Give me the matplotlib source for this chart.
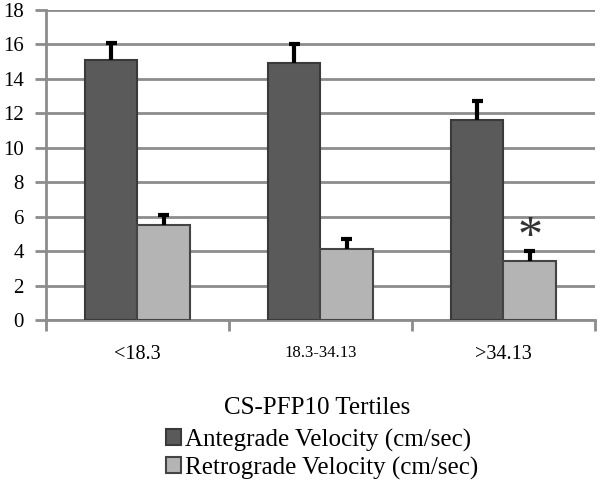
import matplotlib.pyplot as plt
import numpy as np

categories = ['<18.3', '18.3-34.13', '>34.13']
antegrade = [15.1, 14.9, 11.6]
antegrade_err = [1.0, 1.1, 1.1]
retrograde = [5.5, 4.1, 3.4]
retrograde_err = [0.6, 0.6, 0.6]

plt.rcParams['font.family'] = ['Liberation Serif', 'DejaVu Serif']

fig = plt.figure(figsize=(6.01, 4.83), dpi=100)
ax = fig.add_axes([0.0765, 0.3375, 0.9135, 0.642])

x = np.arange(len(categories))
w = 0.285
ax.bar(x - w / 2, antegrade, w, color='#5a5a5a', edgecolor='#3a3a3a', linewidth=1.5,
       label='Antegrade Velocity (cm/sec)', zorder=3)
ax.bar(x + w / 2, retrograde, w, color='#b4b4b4', edgecolor='#444444', linewidth=1.5,
       label='Retrograde Velocity (cm/sec)', zorder=3)

# upper error bars only
cap = 0.032
for xs, vals, errs in [(x - w / 2, antegrade, antegrade_err), (x + w / 2, retrograde, retrograde_err)]:
    tops = np.array(vals) + np.array(errs)
    ax.vlines(xs, vals, tops, color='black', linewidth=3, zorder=4)
    ax.hlines(tops, xs - cap, xs + cap, color='black', linewidth=3, zorder=4)

# significance marker
ax.text(x[2] + w / 2, 4.75, '*', ha='center', va='center', fontsize=36, color='#333333')

ax.set_xlim(-0.5, 2.5)
ax.set_ylim(0, 18)
ax.set_yticks(np.arange(0, 19, 2))
ax.yaxis.grid(True, color='#8c8c8c', linewidth=2)
ax.set_axisbelow(True)
for s in ['top', 'right']:
    ax.spines[s].set_visible(False)
ax.spines['left'].set_color('#8c8c8c')
ax.spines['left'].set_linewidth(2)
ax.spines['bottom'].set_color('#8c8c8c')
ax.spines['bottom'].set_linewidth(2)
ax.tick_params(axis='y', length=8, width=2, color='#8c8c8c', labelsize=15, pad=8)

# category boundaries as ticks, labels at centers
ax.set_xticks([-0.5, 0.5, 1.5, 2.5])
ax.set_xticklabels([])
ax.tick_params(axis='x', length=8, width=2, color='#8c8c8c')
ax.set_xticks(x, minor=True)
ax.set_xticklabels(categories, minor=True)
ax.tick_params(axis='x', which='minor', length=0, labelsize=14.5, pad=18)
ax.get_xticklabels(minor=True)[1].set_fontsize(12)

fig.text(0.528, 0.155, 'CS-PFP10 Tertiles', ha='center', va='center', fontsize=18)
fig.legend(loc='upper left', bbox_to_anchor=(0.277, 0.113), frameon=False, fontsize=18,
           handlelength=0.6, handleheight=0.6, handletextpad=0.15, labelspacing=0.2,
           borderaxespad=0, borderpad=0)

fig.savefig('out.png', dpi=100)
